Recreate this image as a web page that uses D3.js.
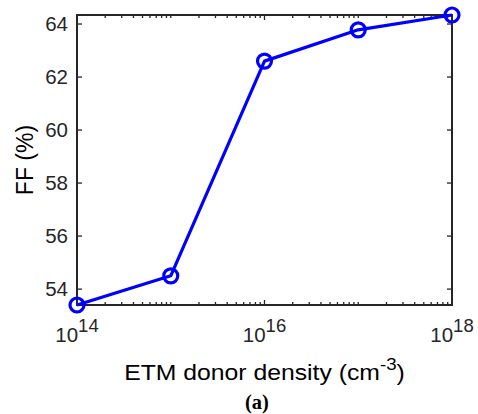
<!DOCTYPE html>
<html>
<head>
<meta charset="utf-8">
<script src="https://cdn.jsdelivr.net/npm/d3@7"></script>
<style>
  html, body { margin: 0; padding: 0; background: #fff; }
  svg { display: block; font-family: "Liberation Sans", Arial, sans-serif; }
</style>
</head>
<body>
<svg id="chart" width="478" height="414"></svg>
<script>
// ETM donor density (cm^-3) versus fill factor (%)
const density = [1e14, 1e15, 1e16, 1e17, 1e18];
const ff = [53.4, 54.5, 62.6, 63.78, 64.34];
const yTicks = [54, 56, 58, 60, 62, 64];
const xTickExps = [14, 16, 18];

const W = 478, H = 414;
const margin = { left: 77, right: 26, top: 15, bottom: 109 };
const svg = d3.select("#chart");
const ink = "#262626";

const x = d3.scaleLog()
  .domain([1e14, 1e18])
  .range([margin.left, W - margin.right]);
const y = d3.scaleLinear()
  .domain([d3.min(ff), d3.max(ff)])
  .range([H - margin.bottom, margin.top]);

const x0 = x.range()[0], x1 = x.range()[1];
const y0 = y.range()[0], y1 = y.range()[1];

// y ticks, inward on both sides
const yMajor = 5;
const gy = svg.append("g");
yTicks.forEach(v => {
  gy.append("line").attr("x1", x0).attr("x2", x0 + yMajor)
    .attr("y1", y(v)).attr("y2", y(v)).attr("stroke", ink).attr("stroke-width", 1.3);
  gy.append("line").attr("x1", x1).attr("x2", x1 - yMajor)
    .attr("y1", y(v)).attr("y2", y(v)).attr("stroke", ink).attr("stroke-width", 1.3);
  gy.append("text").attr("x", x0 - 9).attr("y", y(v)).attr("dy", "0.36em")
    .attr("text-anchor", "end").attr("font-size", 20.5).attr("fill", ink).text(v);
});

// x ticks: log minors on bottom and top edges, majors at labelled decades
const minorVals = [];
for (let e = 14; e < 18; e++) {
  for (let m = 1; m <= 9; m++) {
    const v = m * Math.pow(10, e);
    if (!(m === 1 && xTickExps.includes(e))) minorVals.push(v);
  }
}
const gx = svg.append("g");
minorVals.forEach(v => {
  gx.append("line").attr("x1", x(v)).attr("x2", x(v))
    .attr("y1", y0).attr("y2", y0 - 3).attr("stroke", ink).attr("stroke-width", 1.3);
  gx.append("line").attr("x1", x(v)).attr("x2", x(v))
    .attr("y1", y1).attr("y2", y1 + 3).attr("stroke", ink).attr("stroke-width", 1.3);
});
xTickExps.forEach(e => {
  const v = Math.pow(10, e);
  gx.append("line").attr("x1", x(v)).attr("x2", x(v))
    .attr("y1", y0).attr("y2", y0 - yMajor).attr("stroke", ink).attr("stroke-width", 1.3);
  gx.append("line").attr("x1", x(v)).attr("x2", x(v))
    .attr("y1", y1).attr("y2", y1 + yMajor).attr("stroke", ink).attr("stroke-width", 1.3);
  const t = gx.append("text").attr("x", x(v)).attr("y", y0 + 37)
    .attr("text-anchor", "middle").attr("font-size", 20.5).attr("fill", ink);
  t.append("tspan").text("10");
  t.append("tspan").attr("dy", -10).attr("font-size", 18.5).text(e);
});

// axis box
svg.append("rect").attr("x", x0).attr("y", y1)
  .attr("width", x1 - x0).attr("height", y0 - y1)
  .attr("fill", "none").attr("stroke", ink).attr("stroke-width", 2);

// data line and circle markers
const pts = density.map((d, i) => [x(d), y(ff[i])]);
svg.append("path").attr("d", d3.line()(pts))
  .attr("fill", "none").attr("stroke", "#0000ff").attr("stroke-width", 3.2)
  .attr("stroke-linejoin", "round");
svg.selectAll("circle.m").data(pts).enter().append("circle")
  .attr("class", "m").attr("cx", d => d[0]).attr("cy", d => d[1]).attr("r", 7)
  .attr("fill", "none").attr("stroke", "#0000ff").attr("stroke-width", 3.2);

// axis titles
const xlG = svg.append("g")
  .attr("transform", `translate(${(x0 + x1) / 2},380) scale(1.1,1)`);
const xl = xlG.append("text").attr("x", 0).attr("y", 0)
  .attr("text-anchor", "middle").attr("font-size", 22.5).attr("fill", "#000");
xl.append("tspan").text("ETM donor density (cm");
xl.append("tspan").attr("dy", -10).attr("font-size", 17).text("-3");
xl.append("tspan").attr("dy", 10).text(")");

svg.append("text")
  .attr("transform", `translate(33,${(y0 + y1) / 2}) rotate(-90)`)
  .attr("text-anchor", "middle").attr("font-size", 23).attr("fill", "#000")
  .text("FF (%)");

svg.append("text").attr("x", 257).attr("y", 409)
  .attr("text-anchor", "middle").attr("font-size", 20.5).attr("font-weight", "bold")
  .attr("font-family", "'Liberation Serif', 'Times New Roman', serif")
  .attr("fill", "#000").text("(a)");
</script>
</body>
</html>
